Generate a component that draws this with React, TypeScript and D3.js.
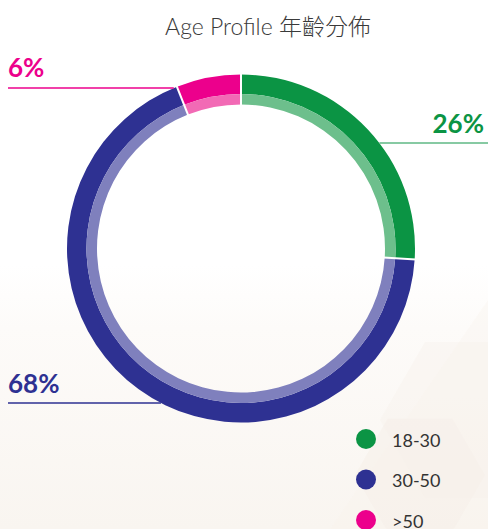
import React from "react";
import * as d3 from "d3";

const categories = ["18-30", "30-50", ">50"];
const values = [26, 68, 6];
const valueLabels = ["26%", "68%", "6%"];
const darkColors = ["#0b9444", "#2e3192", "#ec008c"];
const lightColors = ["#6dbf8c", "#7f80bd", "#f26ab5"];
const lineColors = ["#5fb985", "#2e3192", "#ec008c"];
const title = "Age Profile 年齡分佈";

const W = 488;
const H = 529;
const cx = 241;
const cy = 248.5;
const rOuter = 174;
const rMid = 154.5;
const rInner = 144;

// label layout: line y and side
const labelLayout = [
  { lineY: 143, side: "right", textY: 133 },
  { lineY: 403, side: "left", textY: 393 },
  { lineY: 88, side: "left", textY: 77 },
];

export default function App() {
  const pie = d3.pie<number>().sort(null).value((d) => d);
  const arcs = pie(values);
  const outerArc = d3.arc<d3.PieArcDatum<number>>().innerRadius(rMid).outerRadius(rOuter);
  const innerArc = d3.arc<d3.PieArcDatum<number>>().innerRadius(rInner).outerRadius(rMid);

  const hex = (x: number, y: number, r: number) =>
    d3.range(6).map((i) => {
      const a = (Math.PI / 3) * i;
      return [x + r * Math.cos(a), y + r * Math.sin(a)].join(",");
    }).join(" ");

  return (
    <svg width={W} height={H} style={{ position: "absolute", left: 0, top: 0, display: "block" }}>
      <defs>
        <linearGradient id="bg" x1="0" y1="0" x2="0" y2="1">
          <stop offset="0" stopColor="#ffffff" />
          <stop offset="0.5" stopColor="#ffffff" />
          <stop offset="0.62" stopColor="#fdfbf9" />
          <stop offset="1" stopColor="#f9f5f0" />
        </linearGradient>
      </defs>
      <rect x={0} y={0} width={W} height={H} fill="url(#bg)" />
      <polygon points={hex(420, 475, 65)} fill="#f3ebe2" opacity={0.35} />
      <polygon points={hex(470, 420, 90)} fill="#f6efe8" opacity={0.3} />
      <polygon points={`${W},300 ${W},${H} 330,${H}`} fill="#f7f1ea" opacity={0.3} />

      <text
        x={268}
        y={35}
        textAnchor="middle"
        fontFamily="Lato, 'Noto Sans CJK TC', sans-serif"
        fontWeight={300}
        fontSize={23}
        fill="#3a3a3a"
      >
        {title}
      </text>

      <g transform={`translate(${cx},${cy})`}>
        {arcs.map((a, i) => (
          <g key={categories[i]}>
            <path d={outerArc(a) || ""} fill={darkColors[i]} />
            <path d={innerArc(a) || ""} fill={lightColors[i]} />
          </g>
        ))}
        {arcs.map((a, i) => {
          const ang = a.startAngle;
          const x1 = (rInner - 1) * Math.sin(ang);
          const y1 = -(rInner - 1) * Math.cos(ang);
          const x2 = (rOuter + 1) * Math.sin(ang);
          const y2 = -(rOuter + 1) * Math.cos(ang);
          return <line key={"sep" + i} x1={x1} y1={y1} x2={x2} y2={y2} stroke="#ffffff" strokeWidth={2} />;
        })}
      </g>

      {labelLayout.map((l, i) => {
        const dy = l.lineY - cy;
        const dx = Math.sqrt(Math.max(0, rOuter * rOuter - dy * dy));
        const xArc = l.side === "right" ? cx + dx : cx - dx;
        const xEnd = l.side === "right" ? W : 8;
        return (
          <g key={"lbl" + i}>
            <line x1={Math.min(xArc, xEnd)} x2={Math.max(xArc, xEnd)} y1={l.lineY} y2={l.lineY} stroke={lineColors[i]} strokeWidth={1.3} />
            <text
              x={l.side === "right" ? 484 : 8}
              y={l.textY}
              textAnchor={l.side === "right" ? "end" : "start"}
              fontFamily="Lato, sans-serif"
              fontWeight={700}
              fontSize={26}
              fill={darkColors[i]}
            >
              {valueLabels[i]}
            </text>
          </g>
        );
      })}

      {categories.map((c, i) => (
        <g key={"leg" + c} transform={`translate(366,${439 + i * 40.5})`}>
          <circle r={10} fill={darkColors[i]} />
          <text x={26} y={7.5} fontFamily="Lato, sans-serif" fontWeight={400} fontSize={18} fill="#333333">
            {c}
          </text>
        </g>
      ))}
    </svg>
  );
}
